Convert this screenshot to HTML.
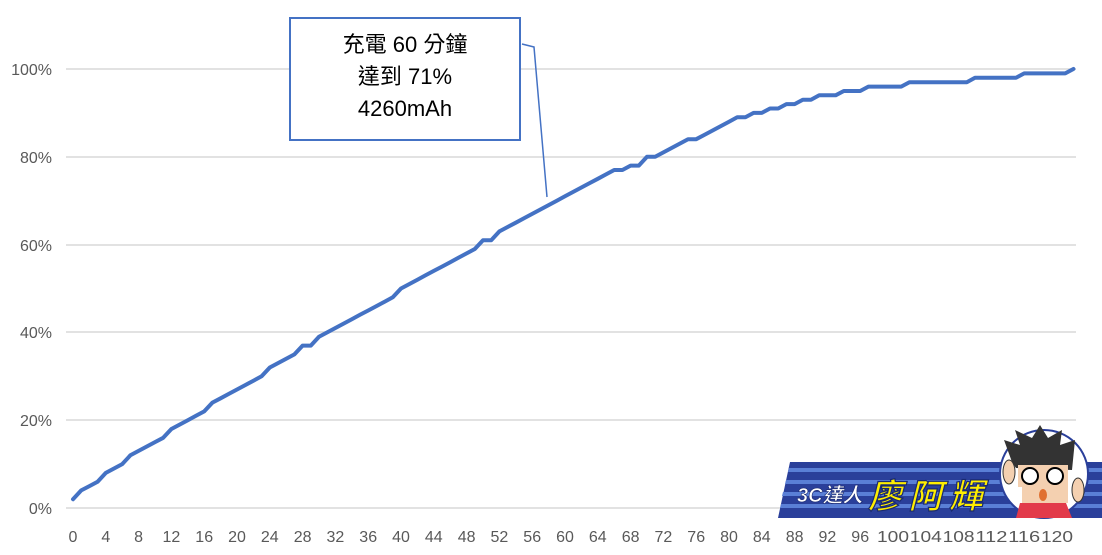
<!DOCTYPE html>
<html><head><meta charset="utf-8"><style>
html,body{margin:0;padding:0;background:#fff;}
svg{display:block;font-family:"Liberation Sans","Noto Sans CJK TC",sans-serif;}
</style></head><body>
<svg id="s" width="1102" height="555" viewBox="0 0 1102 555" xmlns="http://www.w3.org/2000/svg">
<g stroke="#d9d9d9" stroke-width="1.5">
<line x1="66" x2="1076" y1="69" y2="69"/>
<line x1="66" x2="1076" y1="157" y2="157"/>
<line x1="66" x2="1076" y1="245" y2="245"/>
<line x1="66" x2="1076" y1="332" y2="332"/>
<line x1="66" x2="1076" y1="420" y2="420"/>
<line x1="66" x2="1076" y1="508" y2="508"/>
</g>
<g fill="#595959" font-size="16" text-anchor="end">
<text x="52" y="75">100%</text><text x="52" y="163">80%</text><text x="52" y="251">60%</text>
<text x="52" y="338">40%</text><text x="52" y="426">20%</text><text x="52" y="514">0%</text>
</g>
<g id="xl" fill="#595959" font-size="16" text-anchor="middle"></g>
<polyline id="ln" fill="none" stroke="#4472c4" stroke-width="4" stroke-linejoin="round" stroke-linecap="round" points=""/>
<polyline points="522,44 534,47 547,197" fill="none" stroke="#4472c4" stroke-width="1.5"/>
<rect x="290" y="18" width="230" height="122" fill="#fff" stroke="#4472c4" stroke-width="2"/>
<g font-size="22" fill="#000" text-anchor="middle">
<text x="405" y="52">充電 60 分鐘</text>
<text x="405" y="84">達到 71%</text>
<text x="405" y="116">4260mAh</text>
</g>
<!-- logo -->
<polygon points="790,462 1102,462 1102,518 778,518" fill="#2a3f9a"/>
<g fill="#5a7fd6"><polygon points="789,468 1102,468 1102,472 788,472"/><polygon points="786,480 1102,480 1102,484 785,484"/><polygon points="783,492 1102,492 1102,496 782,496"/><polygon points="781,504 1102,504 1102,508 780,508"/></g>
<text x="797" y="502" font-size="20" font-weight="bold" font-style="italic" fill="#fff" stroke="#1a2a70" stroke-width="0.6">3C達人</text>
<text x="868" y="508" font-size="34" font-weight="bold" font-style="italic" fill="#ffee00" stroke="#1a2a70" stroke-width="1.2" textLength="115" lengthAdjust="spacing">廖阿輝</text>
<circle cx="1044" cy="474" r="44" fill="#fff" stroke="#2a3f9a" stroke-width="2"/>
<path d="M1012,462 L1004,440 L1020,445 L1015,430 L1032,438 L1040,425 L1048,438 L1062,430 L1060,445 L1075,440 L1072,470 L1016,468Z" fill="#333"/>
<rect x="1018" y="465" width="50" height="22" fill="#f4d0b0"/>
<circle cx="1030" cy="476" r="8" fill="#fff" stroke="#000" stroke-width="2"/>
<circle cx="1055" cy="476" r="8" fill="#fff" stroke="#000" stroke-width="2"/>
<rect x="1022" y="487" width="46" height="16" fill="#f4d0b0"/>
<ellipse cx="1043" cy="495" rx="4" ry="6" fill="#e07030"/>
<path d="M1020,503 L1066,503 L1072,518 L1016,518Z" fill="#e23a4a"/>
<ellipse cx="1009" cy="472" rx="6" ry="12" fill="#f4d0b0" stroke="#333" stroke-width="1"/>
<ellipse cx="1078" cy="490" rx="6" ry="12" fill="#f4d0b0" stroke="#333" stroke-width="1"/>
</svg>
<script>
var v=[2,4,5,6,8,9,10,12,13,14,15,16,18,19,20,21,22,24,25,26,27,28,29,30,32,33,34,35,37,37,39,40,41,42,43,44,45,46,47,48,50,51,52,53,54,55,56,57,58,59,61,61,63,64,65,66,67,68,69,70,71,72,73,74,75,76,77,77,78,78,80,80,81,82,83,84,84,85,86,87,88,89,89,90,90,91,91,92,92,93,93,94,94,94,95,95,95,96,96,96,96,96,97,97,97,97,97,97,97,97,98,98,98,98,98,98,99,99,99,99,99,99,100];
var x0=73,dx=8.2,pts=[];
for(var i=0;i<v.length;i++){pts.push((x0+i*dx).toFixed(1)+","+(508-4.39*v[i]).toFixed(1));}
document.getElementById("ln").setAttribute("points",pts.join(" "));
var g=document.getElementById("xl"),h="";
for(var t=0;t<=120;t+=4){h+='<text x="'+(x0+t*dx).toFixed(1)+'" y="542"'+(t>=100?' textLength="32" lengthAdjust="spacingAndGlyphs"':'')+'>'+t+'</text>';}
g.innerHTML=h;
</script>
</body></html>
